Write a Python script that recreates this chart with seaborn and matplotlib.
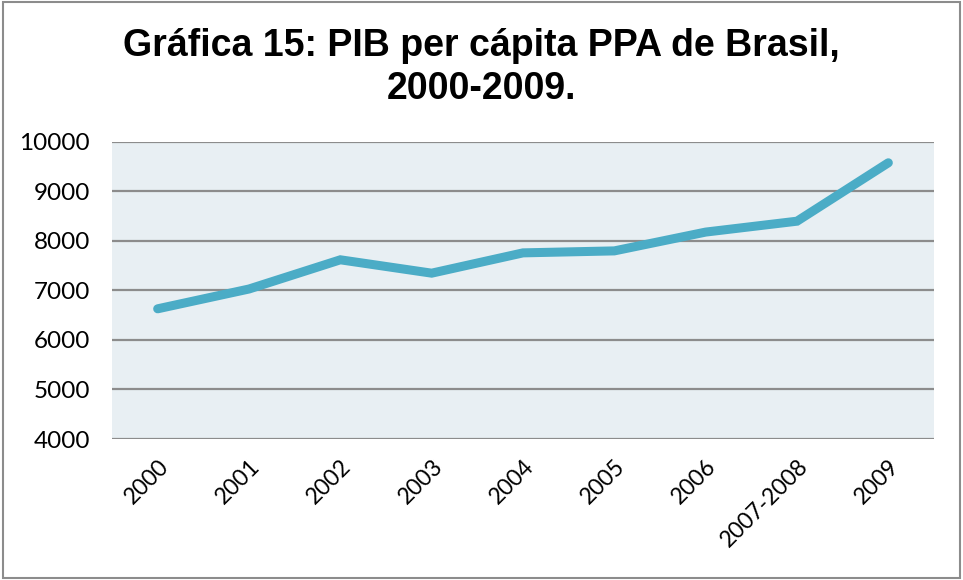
import matplotlib
matplotlib.use("Agg")
import matplotlib.pyplot as plt
import seaborn as sns
import pandas as pd
from matplotlib.patches import Rectangle

# data
years = ['2000', '2001', '2002', '2003', '2004', '2005', '2006', '2007-2008', '2009']
pib_pc = [6630, 7030, 7620, 7350, 7760, 7800, 8180, 8400, 9580]
y_ticks = [4000, 5000, 6000, 7000, 8000, 9000, 10000]

df = pd.DataFrame({'Año': years, 'PIB': pib_pc})
df['pos'] = range(len(df))

sns.set_style("white")
plt.rcParams['font.family'] = ['Lato', 'DejaVu Sans']
plt.rcParams['text.color'] = 'black'

fig = plt.figure(figsize=(9.63, 5.80), dpi=100)
ax = fig.add_axes([0.1163, 0.2431, 0.8536, 0.5121])
ax.set_facecolor('#E8EFF3')

for t in y_ticks:
    ax.axhline(t, color='#8C8C8C', lw=1.6, zorder=1)

sns.lineplot(data=df, x='pos', y='PIB', ax=ax, color='#4BACC6', lw=6.5,
             solid_capstyle='round', solid_joinstyle='miter', zorder=3)

ax.set_xlim(-0.5, len(years) - 0.5)
ax.set_ylim(y_ticks[0], y_ticks[-1])
ax.set_yticks(y_ticks)
ax.set_yticklabels([str(t) for t in y_ticks], fontsize=17.5, color='black')
ax.set_xticks(df['pos'])
ax.set_xticklabels(years, rotation=45, ha='right', rotation_mode='anchor',
                   fontsize=16.5, color='black')
ax.tick_params(axis='y', length=0, pad=16)
ax.tick_params(axis='x', length=0, pad=12)
ax.set_xlabel('')
ax.set_ylabel('')
for s in ax.spines.values():
    s.set_visible(False)

fig.text(0.5, 0.883, 'Gráfica 15: PIB per cápita PPA de Brasil,\n2000-2009.',
         ha='center', va='center', fontsize=27, fontweight='bold', color='black',
         family=['Liberation Sans', 'DejaVu Sans'], linespacing=1.25)

# outer frame of the chart
fig.patches.append(Rectangle((0.003, 0.004), 0.994, 0.992, transform=fig.transFigure,
                             fill=False, edgecolor='#8C8C8C', lw=1.5))

plt.savefig('out.png', dpi=100)
plt.close()
